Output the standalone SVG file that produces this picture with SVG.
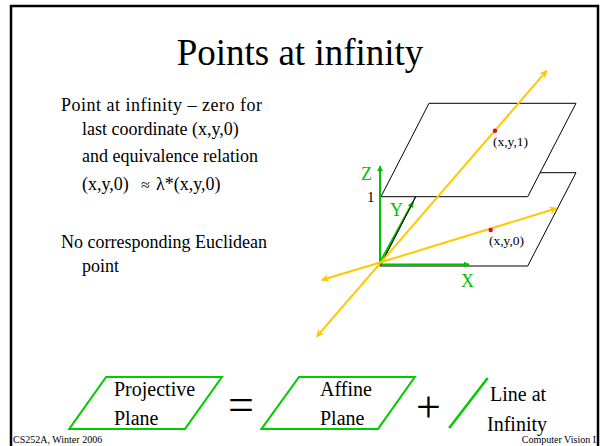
<svg xmlns="http://www.w3.org/2000/svg" width="600" height="446" viewBox="0 0 600 446">
<defs>
<style>
text{font-family:"Liberation Serif","Times New Roman",serif;fill:#000}
.body{font-size:18px}
.axis{stroke:#00C000;stroke-width:2;fill:none}
.ray{stroke:#FFC800;stroke-width:2;fill:none}
.plane{stroke:#000;stroke-width:1;fill:#fff}
.edge{stroke:#000;stroke-width:1;fill:none}
.gp{stroke:#00CC00;stroke-width:2;fill:#fff}
.glab{fill:#00C000;font-size:18px}
.pl{font-size:13.5px}
.big{font-size:20px}
.foot{font-size:10px}
</style>
<marker id="ga" viewBox="0 0 10 10" refX="9" refY="5" markerWidth="6" markerHeight="6" orient="auto" markerUnits="userSpaceOnUse">
<path d="M0,0 L10,5 L0,10 z" fill="#00C000"/>
</marker>
<marker id="ya" viewBox="0 0 10 10" refX="9" refY="5" markerWidth="10" markerHeight="8" orient="auto-start-reverse" markerUnits="userSpaceOnUse">
<path d="M0,0 L10,5 L0,10 L3,5 z" fill="#FFC800"/>
</marker>
</defs>
<rect x="0" y="0" width="600" height="446" fill="#fff"/>
<path d="M11,450 L11,6 L598,6 L598,450" fill="none" stroke="#000" stroke-width="2.5"/>
<text x="300" y="65" text-anchor="middle" style="font-size:37px">Points at infinity</text>
<g id="text-block" class="body">
<text x="61" y="111" textLength="201" lengthAdjust="spacing">Point at infinity – zero for</text>
<text x="82" y="135">last coordinate (x,y,0)</text>
<text x="82" y="162">and equivalence relation</text>
<text y="190"><tspan x="82">(x,y,0)</tspan><tspan x="141" style="font-size:16px">≈</tspan><tspan x="156">λ*(x,y,0)</tspan></text>
<text x="61" y="248">No corresponding Euclidean</text>
<text x="82" y="272">point</text>
</g>
<g id="lower-plane"><path class="plane" d="M380,266 L428,172.7 L576,172.7 L527.7,266 Z"/></g>
<g id="upper-plane"><path class="plane" d="M381,196.7 L429,103.3 L576,103.3 L527.7,196.7 Z"/></g>
<g id="connectors">
<line class="axis" x1="380" y1="264" x2="380" y2="166" marker-end="url(#ga)"/>
<line class="axis" x1="380" y1="264.5" x2="469" y2="264.5" marker-end="url(#ga)"/>
<line class="axis" x1="379" y1="264" x2="413" y2="202" marker-end="url(#ga)"/>
<line class="edge" x1="380.5" y1="265.5" x2="415.5" y2="197"/>
<line class="ray" x1="380" y1="263.5" x2="546.7" y2="70.7" marker-end="url(#ya)"/>
<line class="ray" x1="380" y1="263.5" x2="316.7" y2="336.7" marker-end="url(#ya)"/>
<line class="ray" x1="380" y1="262.5" x2="556.7" y2="208.3" marker-end="url(#ya)"/>
<line class="ray" x1="380" y1="262.5" x2="321.7" y2="280" marker-end="url(#ya)"/>
</g>
<g id="labels">
<text class="glab" x="361" y="180">Z</text>
<text x="367" y="202" style="font-size:15px">1</text>
<text class="glab" x="390" y="216">Y</text>
<text class="glab" x="461" y="287">X</text>
<circle cx="495" cy="130.7" r="2.2" fill="#E0004A"/>
<circle cx="490.7" cy="230" r="2.2" fill="#E0004A"/>
<text class="pl" x="493" y="146">(x,y,1)</text>
<text class="pl" x="489" y="245">(x,y,0)</text>
</g>
<g id="projective">
<path class="gp" d="M69.3,428.9 L106.1,377 L221.9,377 L185,428.9 Z"/>
<text class="big" x="114" y="396">Projective</text>
<text class="big" x="114" y="425">Plane</text>
</g>
<text x="228" y="420" style="font-size:46px">=</text>
<g id="affine">
<path class="gp" d="M261.5,428.9 L299,377 L414.8,377 L378,428.9 Z"/>
<text class="big" x="320" y="396">Affine</text>
<text class="big" x="320" y="425">Plane</text>
</g>
<text x="416" y="422" style="font-size:44px">+</text>
<g id="line-at-infinity">
<line x1="449.2" y1="427.9" x2="487.7" y2="378" stroke="#00CC00" stroke-width="2.5"/>
<text class="big" x="490" y="401">Line at</text>
<text class="big" x="487" y="431">Infinity</text>
</g>
<text class="foot" x="13" y="443">CS252A, Winter 2006</text>
<text class="foot" x="596" y="443" text-anchor="end">Computer Vision I</text>
</svg>
